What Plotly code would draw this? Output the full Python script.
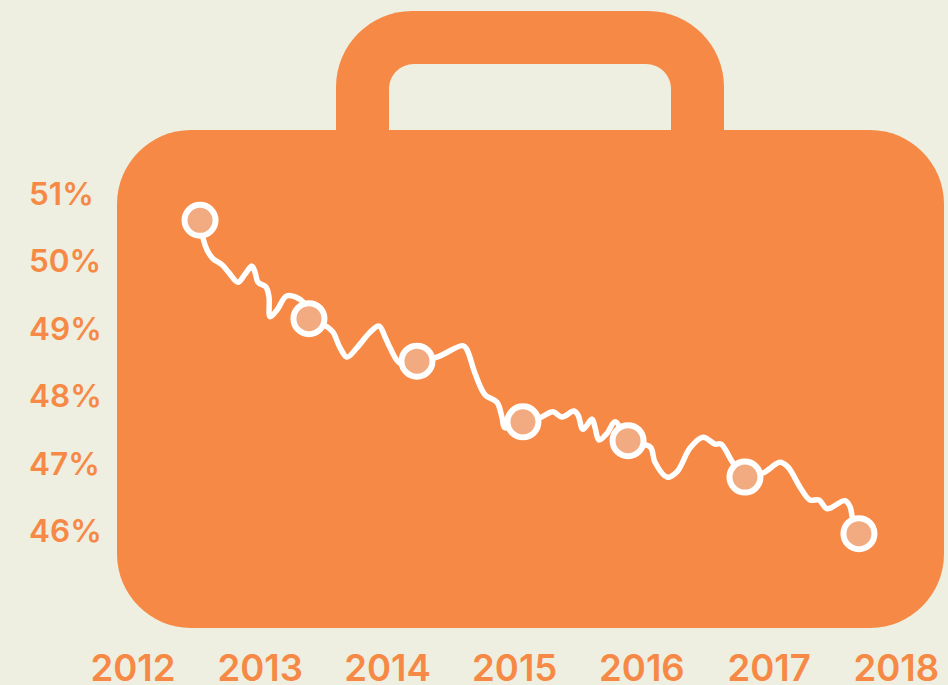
import plotly.graph_objects as go

# Series
years = [2012.527,2012.550,2012.582,2012.629,2012.700,2012.755,2012.825,2012.880,2012.935,2012.959,2012.983,
         2013.045,2013.069,2013.077,2013.132,2013.210,2013.336,2013.383,2013.525,2013.572,2013.627,2013.682,2013.761,2013.863,2013.934,2013.981,
         2014.020,2014.099,2014.232,2014.389,2014.594,2014.625,2014.688,2014.767,2014.861,2014.900,2014.924,
         2015.065,2015.199,2015.301,2015.372,2015.466,2015.498,2015.537,2015.608,2015.631,2015.663,2015.726,2015.789,2015.891,
         2016.064,2016.103,2016.197,2016.276,2016.378,2016.480,2016.575,2016.622,2016.716,2016.810,2016.952,
         2017.085,2017.148,2017.243,2017.321,2017.392,2017.455,2017.596,2017.636,2017.659,2017.706]
share = [50.61,50.35,50.17,50.04,49.95,49.83,49.69,49.81,49.93,49.84,49.69,
         49.62,49.47,49.18,49.28,49.49,49.40,49.15,49.03,48.95,48.72,48.58,48.72,48.95,49.04,48.88,
         48.72,48.49,48.52,48.58,48.75,48.69,48.34,48.02,47.91,47.69,47.53,
         47.62,47.68,47.77,47.69,47.78,47.72,47.51,47.66,47.54,47.35,47.45,47.62,47.34,
         47.25,47.02,46.80,46.88,47.23,47.39,47.29,47.29,47.01,46.80,46.86,
         47.02,46.95,46.65,46.46,46.46,46.33,46.45,46.36,46.16,45.96]
marker_years = [2012.527,2013.383,2014.232,2015.065,2015.891,2016.810,2017.706]
marker_share = [50.61,49.15,48.52,47.62,47.34,46.80,45.96]
x_ticks = [2012,2013,2014,2015,2016,2017,2018]
y_ticks = [46,47,48,49,50,51]
y_labels = ["46%","47%","48%","49%","50%","51%"]

BG = "#EEEFE0"
ORANGE = "#F68945"
W, H = 948, 685
ML, MB = 26, 42

def px(v):
    return (v - ML) / (W - ML)
def py(v):
    return 1 - v / (H - MB)
def P(x, y):
    return f"{px(x):.5f},{py(y):.5f}"

def rrect(l, t, r, b, rad, bottom_round=True):
    k = rad * 0.45
    s = f"M{P(l, t + rad)} C{P(l, t + k)} {P(l + k, t)} {P(l + rad, t)} L{P(r - rad, t)} C{P(r - k, t)} {P(r, t + k)} {P(r, t + rad)} "
    if bottom_round:
        s += f"L{P(r, b - rad)} C{P(r, b - k)} {P(r - k, b)} {P(r - rad, b)} L{P(l + rad, b)} C{P(l + k, b)} {P(l, b - k)} {P(l, b - rad)} Z"
    else:
        s += f"L{P(r, b)} L{P(l, b)} Z"
    return s

shapes = [
    dict(type="path", xref="paper", yref="paper", layer="below", line_width=0, fillcolor=ORANGE,
         path=rrect(336, 11, 724, 140, 76, False)),
    dict(type="path", xref="paper", yref="paper", layer="below", line_width=0, fillcolor=BG,
         path=rrect(389, 64, 671, 130, 25, False)),
    dict(type="path", xref="paper", yref="paper", layer="below", line_width=0, fillcolor=ORANGE,
         path=rrect(117, 130, 944, 628, 74)),
]

fig = go.Figure()
fig.add_trace(go.Scatter(x=years, y=share, mode="lines", hoverinfo="skip",
                         line=dict(color="white", width=5.5, shape="spline", smoothing=1.0)))
fig.add_trace(go.Scatter(x=marker_years, y=marker_share, mode="markers",
                         marker=dict(size=31, color="#F2AB80", line=dict(color="white", width=6))))

x_left = 2012 + (ML - 133) * 0.00786
x_right = 2012 + (W - 133) * 0.00786
y_top = 51 + 194 * 0.014837
y_bottom = 51 - (H - MB - 194) * 0.014837

fig.update_layout(
    width=W, height=H, margin=dict(l=ML, r=0, t=0, b=MB), autosize=False,
    paper_bgcolor=BG, plot_bgcolor="rgba(0,0,0,0)", showlegend=False, shapes=shapes,
    xaxis=dict(range=[x_left, x_right], tickmode="array", tickvals=x_ticks, ticktext=[str(v) for v in x_ticks],
               ticks="", showgrid=False, zeroline=False, showline=False, automargin=False,
               tickfont=dict(family="Inter", size=36.5, color=ORANGE, weight=600)),
    yaxis=dict(range=[y_bottom, y_top], tickmode="array", tickvals=y_ticks, ticktext=y_labels,
               ticklabelposition="inside", ticks="", showgrid=False, zeroline=False, showline=False,
               tickfont=dict(family="Inter", size=31.5, color=ORANGE, weight=600)),
)
fig.write_html("out.html", config=dict(displayModeBar=False),
               post_script="document.body.style.margin='0';document.body.style.background='" + BG + "';document.body.style.overflow='hidden';")
